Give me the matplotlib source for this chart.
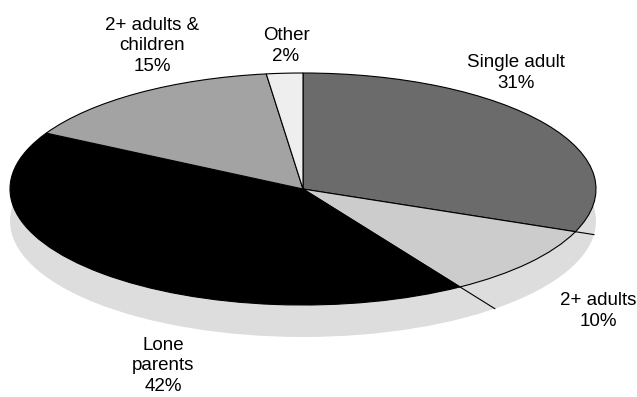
import numpy as np
import matplotlib.pyplot as plt
from matplotlib.patches import Ellipse

# data
labels = ['Single adult', '2+ adults', 'Lone\nparents', '2+ adults &\nchildren', 'Other']
shares = [31, 10, 42, 15, 2]
colors = ['#6b6b6b', '#cccccc', '#000000', '#a3a3a3', '#eeeeee']
# label centres in pixels (x, y from top)
label_pos = [(516, 73), (598, 311), (163, 366), (152, 46), (286, 46)]

W, H = 637, 397
cx, cy = 303, 189      # pie centre (px)
rx, ry = 293, 116      # ellipse radii (px)
depth = 32             # shadow offset (px)

plt.rcParams['font.family'] = ['Liberation Sans', 'DejaVu Sans']

fig = plt.figure(figsize=(W / 100, H / 100), dpi=100)
ax = fig.add_axes([0, 0, 1, 1])

ax.pie(shares, colors=colors, startangle=90, counterclock=False, radius=1,
       frame=True, wedgeprops=dict(edgecolor='black', linewidth=0.8))
ax.set_aspect('auto')
ax.set_xlim(-cx / rx, (W - cx) / rx)
ax.set_ylim(-(H - cy) / ry, cy / ry)
ax.axis('off')

# shadow / depth under the pie
d = depth / ry
ax.add_patch(Ellipse((0, -d), 2, 2, facecolor='#dddddd', edgecolor='none', zorder=0))

# slice borders continue down to the shadow edge
bounds = np.radians(90 - 3.6 * np.cumsum(shares))
for th in bounds:
    s, c = np.sin(th), np.cos(th)
    if s < 0:
        t = -d * s + np.sqrt(d**2 * s**2 - d**2 + 1)
        ax.plot([c, t * c], [s, t * s], color='black', lw=0.8, zorder=0.5)

for lab, val, (px, py) in zip(labels, shares, label_pos):
    ax.text(px / W, 1 - py / H, f'{lab}\n{val}%', transform=ax.transAxes,
            ha='center', va='center', fontsize=13.5, linespacing=1.27, color='black')

fig.savefig('out.png', dpi=100, facecolor='white')
